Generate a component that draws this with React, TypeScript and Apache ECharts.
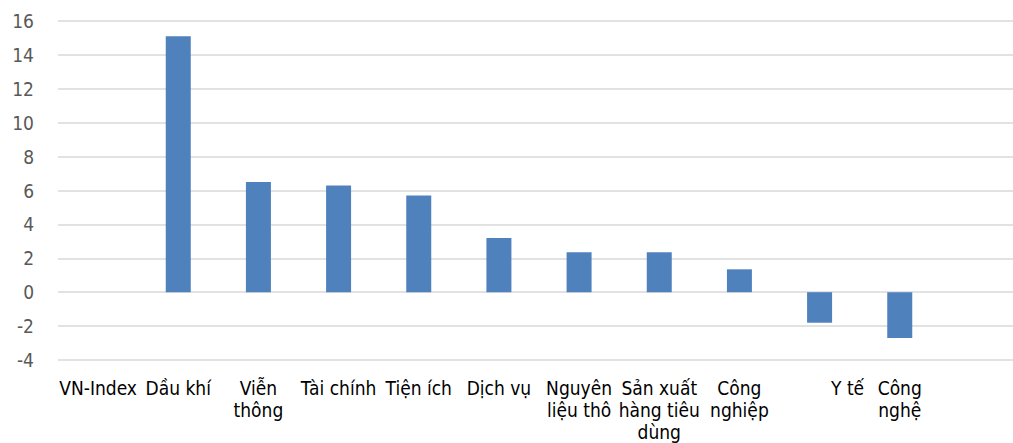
import React, { useEffect, useRef } from "react";
import * as echarts from "echarts";

const categories = [
  "VN-Index",
  "Dầu khí",
  "Viễn\nthông",
  "Tài chính",
  "Tiện ích",
  "Dịch vụ",
  "Nguyên\nliệu thô",
  "Sản xuất\nhàng tiêu\ndùng",
  "Công\nnghiệp",
  "Y tế",
  "Công\nnghệ",
  "",
];
const values = [0, 15.1, 6.5, 6.3, 5.7, 3.2, 2.35, 2.35, 1.35, -1.8, -2.7, null];
const yMin = -4;
const yMax = 16;
const yStep = 2;

const FONT = "'DejaVu Sans Condensed', 'DejaVu Sans', sans-serif";

export default function App() {
  const ref = useRef<HTMLDivElement>(null);
  useEffect(() => {
    if (!ref.current) return;
    const chart = echarts.init(ref.current, undefined, { renderer: "svg" });
    chart.setOption({
      animation: false,
      backgroundColor: "#ffffff",
      grid: { left: 58, right: 0, top: 21, bottom: 82, containLabel: false },
      xAxis: {
        type: "category",
        data: categories,
        axisLine: { show: false, onZero: false },
        axisTick: { show: false },
        splitLine: { show: false },
        axisLabel: {
          interval: 0,
          margin: 17,
          fontSize: 19,
          lineHeight: 22,
          color: "#000000",
          fontFamily: FONT,
          formatter: (v: string) => (v === "Y tế" ? "{off|Y tế}" : v),
          rich: {
            off: {
              fontSize: 19,
              lineHeight: 22,
              color: "#000000",
              fontFamily: FONT,
              padding: [0, 0, 0, 56],
            },
          },
        },
      },
      yAxis: {
        type: "value",
        min: yMin,
        max: yMax,
        interval: yStep,
        axisLine: { show: false },
        axisTick: { show: false },
        splitLine: { lineStyle: { color: "#D9D9D9", width: 1.5 } },
        axisLabel: {
          margin: 24,
          fontSize: 19,
          color: "#595959",
          fontFamily: FONT,
        },
      },
      series: [
        {
          type: "bar",
          data: values,
          barWidth: 25,
          itemStyle: { color: "#4F81BD" },
        },
      ],
    });
    return () => chart.dispose();
  }, []);
  return (
    <div
      ref={ref}
      style={{ position: "fixed", left: 0, top: 0, width: 1020, height: 443, background: "#fff" }}
    />
  );
}
